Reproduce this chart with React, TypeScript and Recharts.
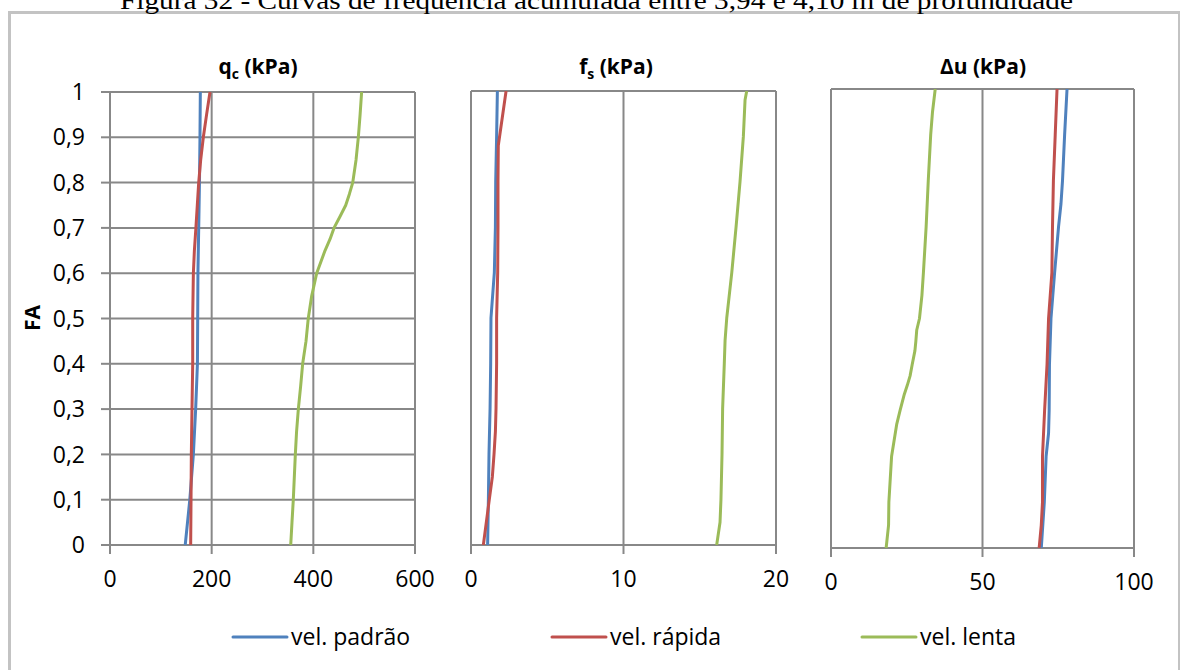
import React from "react";
import { ScatterChart, Scatter, XAxis, YAxis, CartesianGrid } from "recharts";

// ---------- data ----------
const SERIES_NAMES = ["vel. padrão", "vel. rápida", "vel. lenta"];
const SERIES_COLORS = ["#4F81BD", "#C0504D", "#9BBB59"];

const FA_TICKS = [0, 0.1, 0.2, 0.3, 0.4, 0.5, 0.6, 0.7, 0.8, 0.9, 1];

// q_c (kPa)
const qcPadraoFA = [0, 0.1, 0.2, 0.3, 0.4, 0.5, 0.6, 0.7, 0.8, 0.9, 1];
const qcPadraoVal = [148, 157, 164, 168.5, 172, 172.5, 173, 174.5, 176, 177, 177.7];
const qcRapidaFA = [0, 0.1, 0.2, 0.3, 0.4, 0.5, 0.6, 0.65, 0.7, 0.8, 0.85, 0.9, 0.95, 1];
const qcRapidaVal = [158.7, 159.4, 160, 161.3, 162.7, 162.7, 164, 166, 169, 174.5, 178.4, 183.6, 190, 196.7];
const qcLentaFA = [0, 0.05, 0.1, 0.2, 0.25, 0.3, 0.35, 0.4, 0.45, 0.5, 0.55, 0.6, 0.65, 0.675, 0.7, 0.725, 0.75, 0.775, 0.8, 0.85, 0.9, 0.95, 1];
const qcLentaVal = [355.5, 358, 360.6, 364.6, 367, 370.5, 375, 379, 385.6, 390, 396.8, 406.6, 423, 432.8, 440.7, 452.5, 463.7, 471, 477.5, 484, 488.5, 492, 495];
const qcTicks = [0, 200, 400, 600];

// f_s (kPa)
const fsPadraoFA = [0, 0.1, 0.2, 0.3, 0.4, 0.5, 0.6, 0.7, 0.8, 0.9, 1];
const fsPadraoVal = [1.09, 1.14, 1.18, 1.25, 1.29, 1.31, 1.53, 1.6, 1.62, 1.68, 1.73];
const fsRapidaFA = [0, 0.1, 0.15, 0.2, 0.25, 0.3, 0.4, 0.5, 0.6, 0.7, 0.8, 0.88, 1];
const fsRapidaVal = [0.81, 1.2, 1.4, 1.51, 1.6, 1.64, 1.68, 1.68, 1.75, 1.77, 1.77, 1.79, 2.3];
const fsLentaFA = [0, 0.05, 0.1, 0.2, 0.3, 0.4, 0.45, 0.5, 0.6, 0.7, 0.8, 0.9, 0.98, 1];
const fsLentaVal = [16.11, 16.33, 16.39, 16.46, 16.5, 16.61, 16.66, 16.77, 17.1, 17.38, 17.64, 17.86, 17.97, 18.08];
const fsTicks = [0, 10, 20];

// Δu (kPa)
const duPadraoFA = [0, 0.1, 0.2, 0.25, 0.3, 0.4, 0.5, 0.6, 0.7, 0.75, 0.8, 0.9, 1];
const duPadraoVal = [69.4, 70.4, 71.0, 71.8, 72.0, 72.1, 72.6, 73.8, 75.1, 75.9, 76.4, 77.1, 77.9];
const duRapidaFA = [0, 0.05, 0.1, 0.2, 0.3, 0.4, 0.5, 0.6, 0.7, 0.8, 0.9, 1];
const duRapidaVal = [68.7, 69.4, 69.8, 69.8, 70.5, 71.3, 71.8, 72.9, 73.1, 73.4, 74.0, 74.6];
const duLentaFA = [0, 0.05, 0.1, 0.2, 0.27, 0.3, 0.335, 0.355, 0.375, 0.4, 0.43, 0.45, 0.475, 0.5, 0.55, 0.6, 0.7, 0.8, 0.9, 0.95, 1];
const duLentaVal = [18.2, 19.0, 19.1, 20.0, 21.7, 22.8, 24.2, 25.2, 26.1, 26.8, 27.7, 28.0, 28.3, 29.2, 30.0, 30.5, 31.4, 32.1, 32.9, 33.5, 34.4];
const duTicks = [0, 50, 100];

const TITLE = "Figura 32 - Curvas de frequência acumulada entre 3,94 e 4,10 m de profundidade";

// ---------- helpers ----------
const toPoints = (fa: number[], vals: number[]) => fa.map((f, i) => ({ fa: f, v: vals[i] }));

const GRID = "#888888";
const FONT = "'Open Sans', sans-serif";
const faFormat = (v: number) => (v === 0 || v === 1 ? String(v) : v.toFixed(1).replace(".", ","));

const NoShape = () => <g />;

type PanelProps = {
  left: number;
  top: number;
  width: number;
  plotTop: number;
  plotHeight: number;
  marginLeft: number;
  marginRight: number;
  yAxisWidth: number;
  showY: boolean;
  ticks: number[];
  series: { fa: number[]; vals: number[] }[];
};

function Panel(p: PanelProps) {
  const height = p.plotTop + p.plotHeight + 55;
  return (
    <div style={{ position: "absolute", left: p.left, top: p.top }}>
      <ScatterChart
        width={p.width}
        height={height}
        margin={{ top: p.plotTop, right: p.marginRight, bottom: 0, left: p.marginLeft }}
      >
        <CartesianGrid stroke={GRID} strokeWidth={2} />
        <XAxis
          type="number"
          dataKey="v"
          domain={[p.ticks[0], p.ticks[p.ticks.length - 1]]}
          ticks={p.ticks}
          interval={0}
          height={55}
          tickSize={9}
          tickMargin={17}
          axisLine={{ stroke: GRID, strokeWidth: 2 }}
          tickLine={{ stroke: GRID, strokeWidth: 2 }}
          tick={{ fill: "#000", fontSize: 23, fontFamily: FONT }}
          allowDataOverflow
        />
        <YAxis
          type="number"
          dataKey="fa"
          domain={[0, 1]}
          ticks={FA_TICKS}
          interval={0}
          width={p.yAxisWidth}
          tickSize={p.showY ? 9 : 0}
          tickMargin={16}
          axisLine={p.showY ? { stroke: GRID, strokeWidth: 2 } : false}
          tickLine={p.showY ? { stroke: GRID, strokeWidth: 2 } : false}
          tick={p.showY ? { fill: "#000", fontSize: 23, fontFamily: FONT } : false}
          tickFormatter={faFormat}
          allowDataOverflow
        />
        {p.series.map((s, i) => (
          <Scatter
            key={i}
            name={SERIES_NAMES[i]}
            data={toPoints(s.fa, s.vals)}
            fill={SERIES_COLORS[i]}
            line={{ stroke: SERIES_COLORS[i], strokeWidth: 3, strokeLinejoin: "round" }}
            shape={NoShape}
            isAnimationActive={false}
          />
        ))}
      </ScatterChart>
    </div>
  );
}

const LEGEND_X = [233, 552, 862];

export default function App() {
  return (
    <div
      style={{
        position: "absolute",
        left: 0,
        top: 0,
        width: 1181,
        height: 670,
        overflow: "hidden",
        background: "#fff",
      }}
    >
      <div
        style={{
          position: "absolute",
          left: 8,
          top: 11,
          width: 1172,
          height: 720,
          boxSizing: "border-box",
          borderLeft: "3px solid #c3c3c3",
          borderTop: "3px solid #c3c3c3",
          borderRight: "2px solid #c3c3c3",
        }}
      />
      <Panel
        left={0}
        top={0}
        width={445}
        plotTop={92}
        plotHeight={453}
        marginLeft={0}
        marginRight={30}
        yAxisWidth={110}
        showY
        ticks={qcTicks}
        series={[
          { fa: qcPadraoFA, vals: qcPadraoVal },
          { fa: qcRapidaFA, vals: qcRapidaVal },
          { fa: qcLentaFA, vals: qcLentaVal },
        ]}
      />
      <Panel
        left={451}
        top={0}
        width={350}
        plotTop={91}
        plotHeight={454}
        marginLeft={20}
        marginRight={25}
        yAxisWidth={0}
        showY={false}
        ticks={fsTicks}
        series={[
          { fa: fsPadraoFA, vals: fsPadraoVal },
          { fa: fsRapidaFA, vals: fsRapidaVal },
          { fa: fsLentaFA, vals: fsLentaVal },
        ]}
      />
      <Panel
        left={811}
        top={0}
        width={348}
        plotTop={89}
        plotHeight={459}
        marginLeft={20}
        marginRight={25}
        yAxisWidth={0}
        showY={false}
        ticks={duTicks}
        series={[
          { fa: duPadraoFA, vals: duPadraoVal },
          { fa: duRapidaFA, vals: duRapidaVal },
          { fa: duLentaFA, vals: duLentaVal },
        ]}
      />
      <svg
        width={1181}
        height={670}
        style={{ position: "absolute", left: 0, top: 0, pointerEvents: "none" }}
      >
        <text
          x={120}
          y={9}
          fontFamily="'Liberation Serif', 'Times New Roman', serif"
          fontSize={26}
          fill="#000"
          textLength={953}
          lengthAdjust="spacingAndGlyphs"
        >
          {TITLE}
        </text>
        <text x={258} y={74} textAnchor="middle" fontFamily={FONT} fontWeight={700} fontSize={21} fill="#000">
          q<tspan fontSize={14} dy={5}>c</tspan>
          <tspan dy={-5}> (kPa)</tspan>
        </text>
        <text x={616} y={74} textAnchor="middle" fontFamily={FONT} fontWeight={700} fontSize={21} fill="#000">
          f<tspan fontSize={14} dy={5}>s</tspan>
          <tspan dy={-5}> (kPa)</tspan>
        </text>
        <text x={983} y={74} textAnchor="middle" fontFamily={FONT} fontWeight={700} fontSize={21} fill="#000">
          Δu (kPa)
        </text>
        <text
          x={0}
          y={0}
          transform="translate(40,318) rotate(-90)"
          textAnchor="middle"
          fontFamily={FONT}
          fontWeight={700}
          fontSize={21}
          fill="#000"
        >
          FA
        </text>
        {SERIES_NAMES.map((name, i) => (
          <g key={name}>
            <line
              x1={LEGEND_X[i]}
              x2={LEGEND_X[i] + 54}
              y1={637}
              y2={637}
              stroke={SERIES_COLORS[i]}
              strokeWidth={3}
              strokeLinecap="round"
            />
            <text x={LEGEND_X[i] + 58} y={645} fontFamily={FONT} fontSize={23} fill="#000">
              {name}
            </text>
          </g>
        ))}
      </svg>
    </div>
  );
}
